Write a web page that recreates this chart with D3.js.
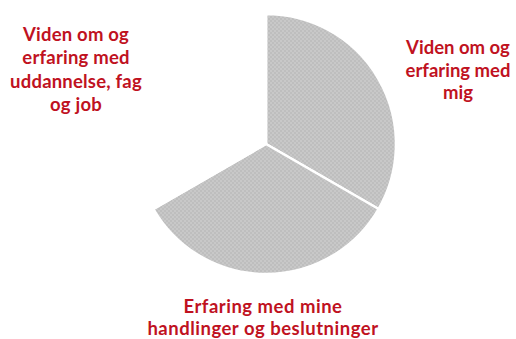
<!DOCTYPE html>
<html>
<head>
<meta charset="utf-8">
<script src="https://cdn.jsdelivr.net/npm/d3@7"></script>
<style>
  html, body { margin: 0; padding: 0; background: #ffffff; }
  svg { display: block; }
</style>
</head>
<body>
<svg id="chart" width="516" height="339"></svg>
<script>
// ---- data ----
const categories = [
  "Viden om og erfaring med mig",
  "Erfaring med mine handlinger og beslutninger",
  "Viden om og erfaring med uddannelse, fag og job"
];
const values = [1, 1, 1];
const sliceFills = ["url(#hatch)", "url(#hatch)", "#ffffff"];
const labelLines = [
  ["Viden om og", "erfaring med", "mig"],
  ["Erfaring med mine", "handlinger og beslutninger"],
  ["Viden om og", "erfaring med", "uddannelse, fag", "og job"]
];

// ---- layout ----
const svg = d3.select("#chart");
const cx = 266, cy = 144, r = 130;

const defs = svg.append("defs");
const pat = defs.append("pattern")
  .attr("id", "hatch").attr("patternUnits", "userSpaceOnUse")
  .attr("width", 4).attr("height", 4);
pat.append("rect").attr("width", 4).attr("height", 4).attr("fill", "#c8c8c8");
pat.append("rect").attr("width", 2).attr("height", 2).attr("fill", "#bebebe");
pat.append("rect").attr("x", 2).attr("y", 2).attr("width", 2).attr("height", 2).attr("fill", "#bebebe");

const pie = d3.pie().sort(null).value(d => d).startAngle(0).endAngle(2 * Math.PI);
const arc = d3.arc().innerRadius(0).outerRadius(r);

const g = svg.append("g").attr("transform", `translate(${cx},${cy})`);
g.selectAll("path").data(pie(values)).join("path")
  .attr("d", arc)
  .attr("fill", (d, i) => sliceFills[i])
  .attr("stroke", "#ffffff")
  .attr("stroke-width", 2.5)
  .attr("stroke-linejoin", "round");

// labels
const labelPos = [
  { x: 458, y: 54, lh: 22.5, fs: 18.5, ls: 0 },
  { x: 263, y: 313, lh: 22, fs: 18.5, ls: 0.5 },
  { x: 76, y: 40.5, lh: 23.5, fs: 18.5, ls: 0.2 }
];
const lab = svg.append("g")
  .attr("font-family", "Lato, 'Open Sans', sans-serif")
  .attr("font-weight", "bold")
  .attr("fill", "#c0121f")
  .attr("text-anchor", "middle");

labelLines.forEach((lines, i) => {
  const p = labelPos[i];
  const t = lab.append("text").attr("x", p.x).attr("y", p.y)
    .attr("font-size", p.fs).attr("letter-spacing", p.ls);
  lines.forEach((ln, j) => {
    t.append("tspan").attr("x", p.x).attr("y", p.y + j * p.lh).text(ln);
  });
});
</script>
</body>
</html>
